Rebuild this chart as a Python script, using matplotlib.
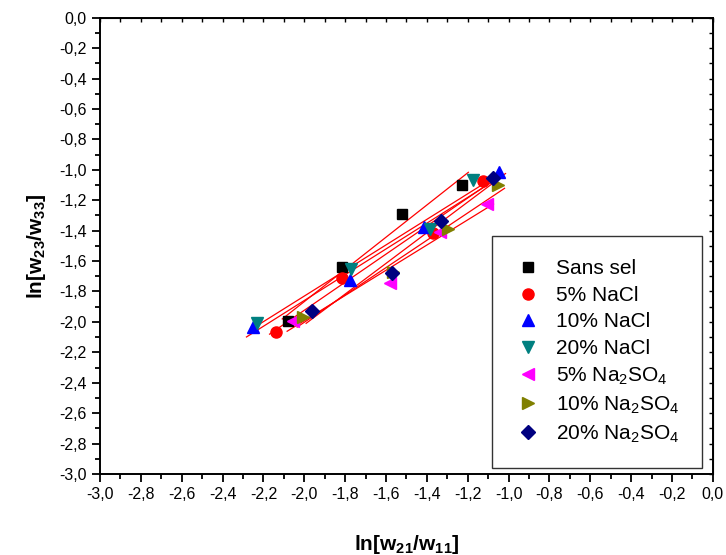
import numpy as np
import matplotlib
matplotlib.use("Agg")
import matplotlib.pyplot as plt
from matplotlib.ticker import MultipleLocator, FuncFormatter

plt.rcParams['font.family'] = ['Liberation Sans', 'DejaVu Sans']
plt.rcParams['mathtext.fontset'] = 'custom'
plt.rcParams['mathtext.rm'] = 'Liberation Sans'
plt.rcParams['mathtext.bf'] = 'Liberation Sans:bold'

# data
labels = ['Sans sel', '5% NaCl', '10% NaCl', '20% NaCl',
          r'5% Na$_2$SO$_4$', r'10% Na$_2$SO$_4$', r'20% Na$_2$SO$_4$']
x_sans = [-1.227, -1.520, -1.814, -2.078]
y_sans = [-1.103, -1.289, -1.639, -1.994]
x_nacl5 = [-1.127, -1.369, -1.817, -2.140]
y_nacl5 = [-1.075, -1.416, -1.709, -2.066]
x_nacl10 = [-1.045, -1.412, -1.776, -2.253]
y_nacl10 = [-1.016, -1.377, -1.727, -2.034]
x_nacl20 = [-1.173, -1.385, -1.773, -2.233]
y_nacl20 = [-1.070, -1.388, -1.650, -2.005]
x_so4_5 = [-1.104, -1.336, -1.581, -2.054]
y_so4_5 = [-1.223, -1.410, -1.745, -1.994]
x_so4_10 = [-1.050, -1.295, -1.564, -2.005]
y_so4_10 = [-1.103, -1.392, -1.672, -1.968]
x_so4_20 = [-1.078, -1.331, -1.569, -1.961]
y_so4_20 = [-1.053, -1.337, -1.676, -1.930]

xs = [x_sans, x_nacl5, x_nacl10, x_nacl20, x_so4_5, x_so4_10, x_so4_20]
ys = [y_sans, y_nacl5, y_nacl10, y_nacl20, y_so4_5, y_so4_10, y_so4_20]
markers = ['s', 'o', '^', 'v', '<', '>', 'D']
colors = ['black', 'red', 'blue', '#008080', 'magenta', '#808000', '#000080']
sizes = [7, 8, 9, 9, 9, 9, 7]

fig = plt.figure(figsize=(7.26, 5.55), dpi=100)
ax = fig.add_axes([0.1377, 0.146, 0.8443, 0.822])

# linear fits over each series range
for x, y in zip(xs, ys):
    p = np.polyfit(x, y, 1)
    xf = np.array([min(x) - 0.03, max(x) + 0.03])
    ax.plot(xf, np.polyval(p, xf), color='red', lw=0.9, zorder=1)

for x, y, m, c, s, lab in zip(xs, ys, markers, colors, sizes, labels):
    ax.plot(x, y, ls='none', marker=m, color=c, ms=s, label=lab, zorder=3)

ax.set_xlim(-3.0, 0.0)
ax.set_ylim(-3.0, 0.0)
fmt = FuncFormatter(lambda v, pos: ('%.1f' % v).replace('.', ','))
for a in (ax.xaxis, ax.yaxis):
    a.set_major_locator(MultipleLocator(0.2))
    a.set_minor_locator(MultipleLocator(0.1))
    a.set_major_formatter(fmt)

ax.tick_params(which='both', direction='out', top=False, right=False,
               labelsize=11.5, width=1.3)
ax.tick_params(which='major', length=6)
ax.tick_params(which='minor', length=3.5)
for sp in ax.spines.values():
    sp.set_linewidth(1.4)

# inward ticks on top and right spines
axt = ax.secondary_xaxis('top')
axt.xaxis.set_major_locator(MultipleLocator(0.1))
axt.tick_params(direction='in', length=3, width=1.0, labeltop=False)
axr = ax.secondary_yaxis('right')
axr.yaxis.set_major_locator(MultipleLocator(0.1))
axr.tick_params(direction='in', length=3, width=1.0, labelright=False)

ax.set_xlabel(r'$\mathbf{ln[w_{21}/w_{11}]}$', fontsize=15, labelpad=22)
ax.set_ylabel(r'$\mathbf{ln[w_{23}/w_{33}]}$', fontsize=15, labelpad=8)

leg = ax.legend(loc='lower right', bbox_to_anchor=(0.982, 0.013), fontsize=15,
                frameon=True, fancybox=False, edgecolor='black',
                borderpad=1.1, labelspacing=0.36, handlelength=1.2,
                handletextpad=0.75, borderaxespad=0.0)
leg.get_frame().set_linewidth(1.0)

fig.savefig('out.png', dpi=100)
